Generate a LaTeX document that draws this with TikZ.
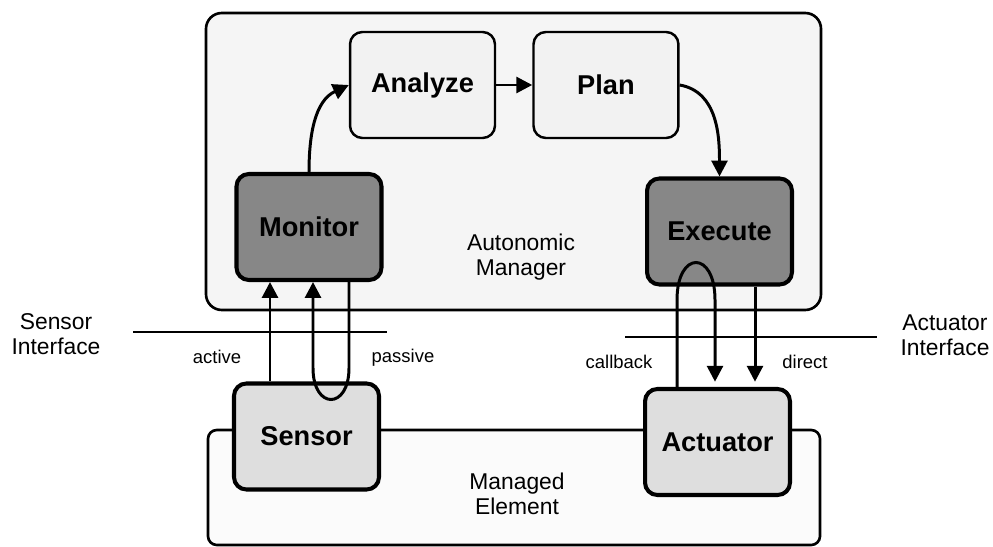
\documentclass[tikz,border=0pt]{standalone}
\usepackage{fontspec}
\setmainfont{Liberation Sans}
\usetikzlibrary{arrows.meta, positioning}
\tikzset{
  >={Triangle[length=9pt,width=9pt]},
  node distance=3.67cm,
  every node/.style={font=\fontsize{13}{14.5}\selectfont, align=center},
  block/.style={rectangle, rounded corners=7pt, draw, line width=1.4pt,
    minimum width=2.9cm, minimum height=2.12cm, fill=black!5,
    font=\fontsize{15.5}{17}\selectfont\bfseries},
  dark/.style={block, fill=black!47, line width=2.3pt},
  light/.style={block, fill=black!13, line width=2.3pt},
  flow/.style={->, line width=1.7pt},
  tag/.style={font=\fontsize{10.5}{12}\selectfont},
}

\begin{document}
\begin{tikzpicture}[x=0.02cm, y=-0.02cm]
  \useasboundingbox (0,0) rectangle (993,547);

  % manager and managed element
  \draw[line width=1.5pt, rounded corners=9pt, fill=black!4] (206,13) rectangle (821,310);
  \draw[line width=1.5pt, rounded corners=5pt, fill=black!1.5] (208,430) rectangle (820,545);

  % interface lines
  \draw[line width=1.5pt] (133,332) -- (387,332);
  \draw[line width=1.5pt] (625,337) -- (877,337);

  \node[block]               (ana) at (422.5,85)    {Analyze};
  \node[block, right of=ana] (plan)                 {Plan};
  \node[dark]                (mon) at (309,227)     {Monitor};
  \node[dark]                (exe) at (719.5,231.5) {Execute};
  \node[light]               (sen) at (306.5,436.5) {Sensor};
  \node[light]               (act) at (717.5,442)   {Actuator};

  \node (ami) at (521,257) {Autonomic\\Manager};
  \node (mel) at (517,494) {Managed\\Element};
  \node (sif) at (56,334)  {Sensor\\Interface};
  \node (aif) at (945,335) {Actuator\\Interface};

  \node[tag] (lact) at (217,357) {active};
  \node[tag] (lpas) at (403,358) {passive};
  \node[tag] (lcb)  at (619,362) {callback};
  \node[tag] (ldir) at (805,362) {direct};

  % loop inside the manager
  \draw[flow] (mon.north) to[out=90,in=205] (ana.west);
  \draw[flow] (ana) -- (plan);
  \draw[flow] (plan.east) to[out=-10,in=90] (exe.north);

  % sensor side
  \draw[flow] (270,0 |- sen.north) -- (270,0 |- mon.south);
  \draw[flow] (349,0 |- mon.south) -- (349,368)
        .. controls (349,410) and (313,410) .. (313,368) -- (313,0 |- mon.south);

  % actuator side
  \draw[flow, shorten >=3pt] (677,0 |- act.north) -- (677,300)
        .. controls (677,250) and (715,250) .. (715,300) -- (715,0 |- act.north);
  \draw[flow, shorten >=3pt] (755,0 |- exe.south) -- (755,0 |- act.north);
\end{tikzpicture}
\end{document}
